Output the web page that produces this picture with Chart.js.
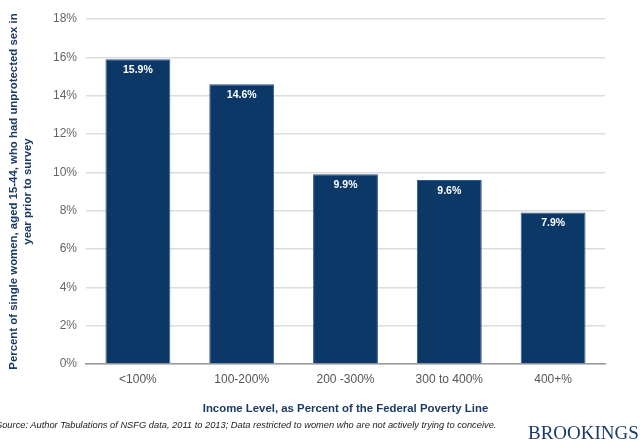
<!DOCTYPE html>
<html>
<head>
<meta charset="utf-8">
<script src="https://cdn.jsdelivr.net/npm/chart.js@4.4.1/dist/chart.umd.min.js"></script>
<style>
  html, body { margin: 0; padding: 0; background: #fff; }
  #wrap { position: relative; width: 640px; height: 443px; overflow: hidden; }
  #source {
    position: absolute; left: -4px; top: 420px;
    font: italic 9.3px "Liberation Sans", Arial, sans-serif; color: #222;
    white-space: nowrap;
  }
  #logo {
    position: absolute; left: 528px; top: 422px;
    font: 19px "Liberation Serif", "Times New Roman", serif; color: #1c3a66;
    white-space: nowrap;
  }
</style>
</head>
<body>
<div id="wrap">
  <canvas id="chart" width="640" height="443"></canvas>
  <div id="source">Source: Author Tabulations of NSFG data, 2011 to 2013; Data restricted to women who are not actively trying to conceive.</div>
  <div id="logo">BROOKINGS</div>
</div>
<script>
const incomeLevels = ['<100%', '100-200%', '200 -300%', '300 to 400%', '400+%'];
const unprotectedPct = [15.9, 14.6, 9.9, 9.6, 7.9];
const yTicks = [0, 2, 4, 6, 8, 10, 12, 14, 16, 18];

// white value labels just inside the top of each bar
const barLabels = {
    id: 'barLabels',
    afterDatasetsDraw(chart) {
        const ctx = chart.ctx;
        const meta = chart.getDatasetMeta(0);
        ctx.save();
        ctx.fillStyle = '#ffffff';
        ctx.font = 'bold 10.5px "Liberation Sans", Arial, sans-serif';
        ctx.textAlign = 'center';
        ctx.textBaseline = 'middle';
        meta.data.forEach(function (bar, i) {
            ctx.fillText(unprotectedPct[i].toFixed(1) + '%', bar.x, bar.y + 11);
        });
        ctx.restore();
    }
};

Chart.defaults.font.family = '"Liberation Sans", Arial, sans-serif';
Chart.defaults.animation = false;

new Chart(document.getElementById('chart'), {
    type: 'bar',
    data: {
        labels: incomeLevels,
        datasets: [{
            data: unprotectedPct,
            backgroundColor: '#0b3866',
            borderColor: '#34598a',
            borderWidth: 1,
            categoryPercentage: 0.625,
            barPercentage: 1
        }]
    },
    options: {
        responsive: false,
        layout: { padding: { left: 0, right: 35, top: 19, bottom: 0 } },
        plugins: {
            legend: { display: false },
            tooltip: { enabled: false }
        },
        scales: {
            y: {
                min: 0,
                max: 18,
                afterFit(scale) { scale.width = 86; },
                afterBuildTicks(scale) { scale.ticks = yTicks.map(v => ({ value: v })); },
                ticks: {
                    color: '#666',
                    font: { size: 12 },
                    padding: 9,
                    callback: v => v + '%'
                },
                grid: { color: '#dcdcdc', lineWidth: 1.5, drawTicks: false },
                border: { display: false },
                title: {
                    display: true,
                    text: ['Percent of single women, aged 15-44, who had unprotected sex in', 'year prior to survey'],
                    color: '#1c3a66',
                    font: { size: 11.4, weight: 'bold', lineHeight: 1.3 },
                    padding: { top: 6, bottom: 0 }
                }
            },
            x: {
                afterFit(scale) { scale.height = 79; },
                ticks: { color: '#555', font: { size: 12 }, padding: 8 },
                grid: { display: false, drawTicks: false },
                border: { display: true, color: '#999', width: 1.5 },
                title: {
                    display: true,
                    text: 'Income Level, as Percent of the Federal Poverty Line',
                    color: '#1c3a66',
                    font: { size: 11.4, weight: 'bold' },
                    padding: { top: 0, bottom: 27 }
                }
            }
        }
    },
    plugins: [barLabels]
});
</script>
</body>
</html>
